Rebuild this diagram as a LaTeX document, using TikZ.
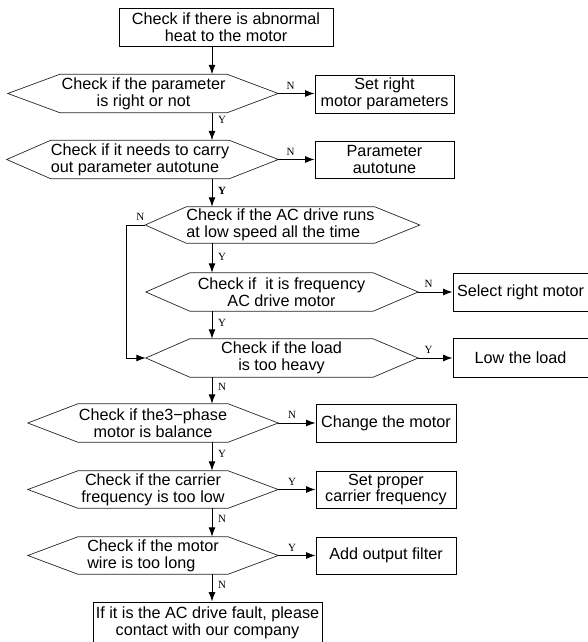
\documentclass[tikz,border=0pt]{standalone}
\usepackage{fontspec}
\setmainfont{Liberation Sans}
\newfontfamily\ynfont{Liberation Serif}
\usetikzlibrary{arrows.meta}

\newcommand{\chartfont}{\fontsize{16.2}{16.7}\selectfont}

% draws the six-sided outline round a decision node, #2/#3 = left/right point length
\newcommand{\hexoutline}[3]{%
  \coordinate (#1-w) at ([xshift=-#2pt]#1.west);
  \coordinate (#1-e) at ([xshift=#3pt]#1.east);
  \draw[outline] (#1.north west) -- (#1.north east) -- (#1-e) -- (#1.south east)
    -- (#1.south west) -- (#1-w) -- cycle;}

\tikzset{
  box/.style={draw, line width=0.9pt, inner sep=1pt, minimum height=38pt, align=center, font=\chartfont},
  decision/.style={inner sep=0pt, minimum height=38pt, align=center, font=\chartfont},
  outline/.style={line width=0.7pt, draw=black!85},
  flow/.style={line width=1pt, -{Latex[length=9.5pt,width=7pt]}},
  yn/.style={font=\ynfont\fontsize{11}{11}\selectfont, inner sep=0.5pt},
}

\begin{document}
\begin{tikzpicture}[x=1pt, y=-1pt] % pixel-like units, y grows downwards
            \useasboundingbox (0,0) rectangle (588,642);
            \coordinate (axis) at (212,0);

            % 1. Start box and first checks
            \node[box, minimum width=214pt] (heat) at (226,27) {Check if there is abnormal\\heat to the motor};
            \node[decision, minimum width=167pt] (param) at (143.5,93.5) {Check if the parameter\\is right or not};
            \hexoutline{param}{52}{51}
            \node[box, minimum width=139pt] (setparam) at (384.5,94) {Set right\\motor parameters};

            \node[decision, minimum width=176pt, align=left] (tune) at (140,159.5) {Check if it needs to carry\\out parameter autotune};
            \hexoutline{tune}{44}{49}
            \node[box, minimum width=139pt, minimum height=37pt] (autotune) at (384.5,159.5) {Parameter\\autotune};

            % 2. Speed, motor type and load
            \node[decision, minimum width=185pt, minimum height=36pt, align=left] (speed) at (280.5,225) {Check if the AC drive runs\\at low speed all the time};
            \hexoutline{speed}{41}{45}
            \node[decision, minimum width=183pt] (freq) at (281.5,292) {Check if~ it is frequency\\AC drive motor};
            \hexoutline{freq}{44}{45}
            \node[box, minimum width=135pt] (selmotor) at (520.5,292) {Select right motor};
            \node[decision, minimum width=183pt] (load) at (281.5,358) {Check if the load\\is too heavy};
            \hexoutline{load}{44}{45}
            \node[box, minimum width=135pt, minimum height=39pt] (lowload) at (520.5,357.5) {Low the load};

            % 3. Motor, carrier and cable checks
            \node[decision, minimum width=150pt] (phase) at (153,423) {Check if the3−phase\\motor is balance};
            \hexoutline{phase}{50}{50}
            \node[box, minimum width=140pt] (change) at (386,423) {Change the motor};
            \node[decision, minimum width=150pt, minimum height=37pt] (carrier) at (153,489.5) {Check if the carrier\\frequency is too low};
            \hexoutline{carrier}{50}{50}
            \node[box, minimum width=140pt, minimum height=37pt] (setcarrier) at (386,489.5) {Set proper\\carrier frequency};
            \node[decision, minimum width=150pt, minimum height=37pt, align=left] (wire) at (153,555.5) {Check if the motor\\wire is too long};
            \hexoutline{wire}{50}{50}
            \node[box, minimum width=140pt, minimum height=37pt] (filter) at (386,555.5) {Add output filter};

            \node[box, minimum width=229pt, minimum height=41pt] (fault) at (207.5,622.5) {If it is the AC drive fault, please\\contact with our company};

            % 4. Main line down the chart
            \draw[flow] (heat.south -| axis) -- (param.north -| axis);
            \draw[flow] (param.south -| axis) -- node[yn, right=5pt, pos=0.27] {Y} (tune.north -| axis);
            \draw[flow] (tune.south -| axis) -- node[yn, right=5pt, pos=0.43] {\bfseries Y} (speed.north -| axis);
            \draw[flow] (speed.south -| axis) -- node[yn, right=5pt, pos=0.45] {Y} (freq.north -| axis);
            \draw[flow] (freq.south -| axis) -- node[yn, right=5pt, pos=0.41] {Y} (load.north -| axis);
            \draw[flow] (load.south -| axis) -- node[yn, right=5pt, pos=0.37] {N} (phase.north -| axis);
            \draw[flow] (phase.south -| axis) -- node[yn, right=5pt, pos=0.4] {Y} (carrier.north -| axis);
            \draw[flow] (carrier.south -| axis) -- node[yn, right=5pt, pos=0.36] {N} (wire.north -| axis);
            \draw[flow] (wire.south -| axis) -- node[yn, right=5pt, pos=0.39] {N} (fault.north -| axis);

            % 5. Side branches
            \draw[flow] (param-e) -- node[yn, above=3.5pt, pos=0.34] {N} (param-e -| setparam.west);
            \draw[flow] (tune-e) -- node[yn, above=3.5pt, pos=0.34] {N} (tune-e -| autotune.west);
            \draw[flow] (freq-e) -- node[yn, above=3.5pt, pos=0.3] {N} (freq-e -| selmotor.west);
            \draw[flow] (load-e) -- node[yn, above=3.5pt, pos=0.3] {Y} (load-e -| lowload.west);
            \draw[flow] (phase-e) -- node[yn, above=3.5pt, pos=0.37] {N} (phase-e -| change.west);
            \draw[flow] (carrier-e) -- node[yn, above=3.5pt, pos=0.37] {Y} (carrier-e -| setcarrier.west);
            \draw[flow] (wire-e) -- node[yn, above=3.5pt, pos=0.37] {Y} (wire-e -| filter.west);

            % low speed loop back into the load check
            \draw[flow] (speed-w) -- node[yn, above=3.5pt, pos=0.26] {N} ++(-19,0) |- (load-w);
        \end{tikzpicture}
\end{document}
